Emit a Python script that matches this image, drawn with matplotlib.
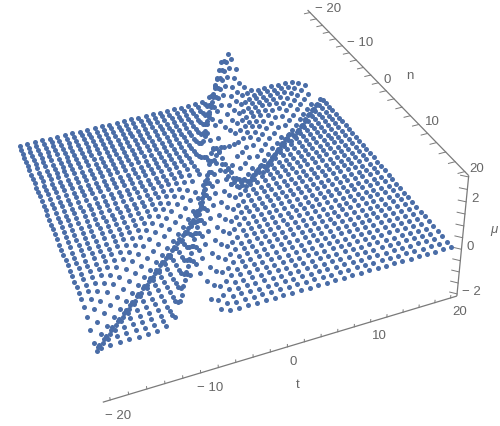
import numpy as np
import matplotlib
matplotlib.use('Agg')
import matplotlib.pyplot as plt

plt.rcParams['font.family'] = ['Liberation Sans', 'DejaVu Sans']

t_values = np.arange(-20, 21)
n_values = np.arange(-20, 21)
# n of the dip bottom for every t
dip_n = [17,16,15,14,13,12,11,10,9,8,7,6,5,4,3,2,1,0,-1,-2,-3,-3,-3,-4,-4,-4,-5,-6,-6,-7,-8,-9,-10,-11,-11,-12,-13,-14,-15,-16,-17]
dip_offsets = [-5,-4,-3,-2,-1,0,1,2,3]
dip_profile = [-.03,-.12,-.3,-.6,-.9,-1.0,-.55,-.18,-.03]
# twice the crest t for every n
peak_t2 = [18,17,16,15,14,13,12,11,10,9,8,7,6,5,4,3,2,2,1,1,0,0,-1,-2,-3,-4,-5,-6,-7,-8,-9,-10,-11,-12,-13,-14,-15,-16,-17,-18,-19]
peak_offsets = [-4,-3,-2,-1,0,1,2,3]
peak_even = [.05,.2,.7,1.7,2.0,1.2,.3,.05]
peak_odd = [.03,.1,.4,1.2,1.9,1.9,.7,.15]
tick_labels = ['\u2212 20', '\u2212 10', '0', '10', '20']
mu_labels = ['\u2212 2', '0', '2']

M = np.zeros((41, 41))
for i, c in enumerate(dip_n):
    for o, v in zip(dip_offsets, dip_profile):
        j = c + o + 20
        if 0 <= j < 41:
            M[j, i] += v
for j, c in enumerate(peak_t2):
    prof = peak_even if c % 2 == 0 else peak_odd
    base = c // 2
    for o, v in zip(peak_offsets, prof):
        i = base + o + 20
        if 0 <= i < 41:
            M[j, i] += v
T, N = np.meshgrid(t_values, n_values)

t_lo, t_hi, n_lo, n_hi, z_lo, z_hi = -20.8, 20.8, -20.8, 20.8, -2.1, 3.05
GRAY = '#7a7a7a'
TXT = '#666666'

fig = plt.figure(figsize=(5, 4.27), dpi=100)
ax = fig.add_axes([-39.268/500, -12.963/427, 500.703/500, 500.703/427], projection='3d')
ax.set_xlim3d(t_lo, t_hi); ax.set_ylim3d(n_hi, n_lo); ax.set_zlim3d(z_lo, z_hi)
ax.patch.set_alpha(0); ax.set_axis_off()
ax.view_init(elev=35.725, azim=-107.945, roll=3.618)
ax.set_proj_type('persp', focal_length=0.412)
ax.set_box_aspect((1, 1, 0.403))

ax.scatter(T.ravel(), N.ravel(), M.ravel(), s=13, c='#4a6da7', depthshade=False, linewidths=0, clip_on=False)

kw = dict(color=GRAY, lw=0.9, solid_capstyle='butt', clip_on=False)
ax.plot([t_lo, t_hi], [n_hi, n_hi], [z_lo, z_lo], **kw)
ax.plot([t_hi, t_hi], [n_lo, n_hi], [z_hi, z_hi], **kw)
ax.plot([t_hi, t_hi], [n_hi, n_hi], [z_lo, z_hi], **kw)
tk = dict(color=GRAY, lw=0.7, clip_on=False)
for v in range(-20, 21, 2):
    ax.plot([v, v], [n_hi, n_hi], [z_lo, z_lo + .11], **tk)
    ax.plot([t_hi, t_hi - 0.8], [v, v], [z_hi, z_hi], **tk)
for v in np.arange(-2, 3.01, .5):
    ax.plot([t_hi, t_hi - 0.6], [n_hi, n_hi - 0.6], [v, v], **tk)

def label(s, x, y, **k):
    fig.text(x / 500, 1 - y / 427, s, ha='center', va='center', color=TXT, fontsize=9.5, **k)

for s, x, y in zip(tick_labels, [118, 210, 293, 379, 460], [416, 388, 362, 336, 312]):
    label(s, x, y)
for s, x, y in zip(tick_labels, [328, 360, 387, 432, 477], [9, 43, 80, 122, 169]):
    label(s, x, y)
for s, x, y in zip(mu_labels, [471, 470, 475], [292, 247, 199]):
    label(s, x, y)
label('t', 298, 385)
label('n', 410, 76)
label('\u03bc', 494, 230, style='italic')
fig.savefig('out.png', dpi=100)
